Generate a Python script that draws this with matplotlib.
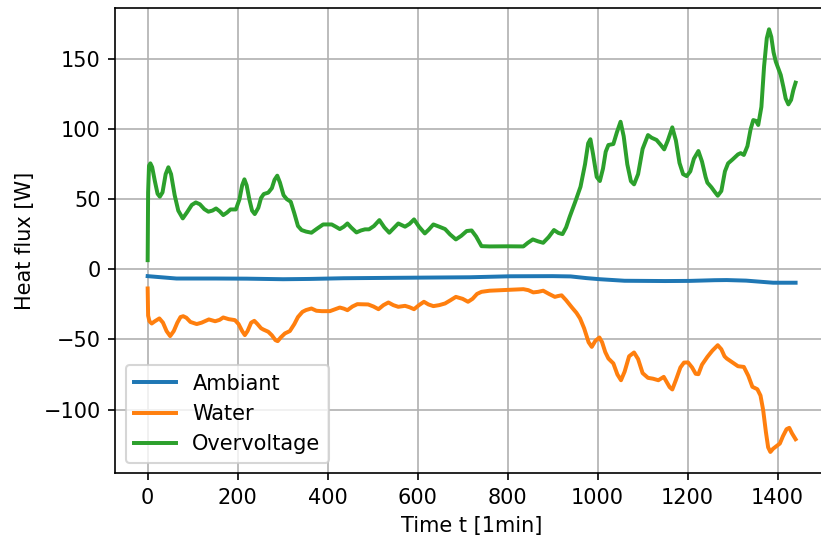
import numpy as np
import matplotlib
matplotlib.use("Agg")
import matplotlib.pyplot as plt

# --- heat flux series [W] vs time [min] ---
t_ambiant = [0, 30, 64, 150, 220, 301, 360, 435, 550, 716, 805, 900, 940,
             975, 1005, 1060, 1150, 1204, 1260, 1287, 1330, 1370, 1390, 1440]
q_ambiant = [-4.8, -5.6, -6.5, -6.5, -6.6, -7.0, -6.8, -6.3, -6.0, -5.6,
             -4.9, -4.8, -5.0, -6.2, -7.0, -8.1, -8.3, -8.2, -7.7, -7.6,
             -8.0, -9.0, -9.5, -9.5]

t_water = [0, 1, 4, 9, 16, 26, 34, 42, 50, 58, 66, 73, 79, 86, 95, 109, 120,
           136, 150, 160, 168, 180, 194, 202, 210, 216, 222, 230, 237, 244,
           252, 257, 268, 276, 284, 289, 296, 305, 316, 326, 334, 344, 352,
           364, 375, 387, 405, 416, 427, 436, 444, 455, 466, 490, 502, 513,
           524, 535, 546, 557, 572, 582, 592, 603, 614, 624, 635, 648, 661,
           673, 685, 700, 712, 722, 732, 742, 760, 800, 835, 846, 857, 868,
           879, 892, 905, 912, 920, 930, 943, 953, 961, 970, 980, 987, 995,
           1004, 1010, 1017, 1024, 1035, 1044, 1052, 1060, 1070, 1081, 1090,
           1100, 1112, 1123, 1135, 1147, 1153, 1160, 1166, 1174, 1184, 1192,
           1201, 1210, 1218, 1224, 1232, 1244, 1255, 1267, 1275, 1282, 1287,
           1300, 1312, 1325, 1335, 1344, 1355, 1362, 1368, 1374, 1379, 1384,
           1390, 1398, 1405, 1412, 1420, 1426, 1432, 1440]
q_water = [-13.6, -33, -37, -38.6, -37, -35, -38, -44, -47.6, -44, -38, -34,
           -33.4, -34.5, -37.5, -39, -38, -35.7, -37, -36, -34.3, -35.5,
           -36.2, -39, -44, -46.9, -44, -38, -36.7, -39, -42, -42.9, -44.5,
           -47, -50.5, -51.2, -48.5, -45.7, -44, -39, -34, -30.3, -29, -27.9,
           -29.5, -29.8, -29.8, -28.5, -27.2, -28, -29.1, -26.5, -24.8, -25,
           -26.5, -28.4, -25.5, -23.6, -25.5, -26.7, -26, -27, -28.4, -25.5,
           -23.1, -25, -26.2, -25.5, -24.3, -22, -19.6, -21, -23.1, -21,
           -17.5, -16, -15.2, -14.6, -14.1, -14.8, -16.4, -16, -15.2, -17.5,
           -19.6, -19, -18.5, -22, -27.2, -31, -35, -42, -52, -55.3, -51,
           -48.6, -52, -59, -63.6, -67.1, -75, -79.1, -73, -62, -59.3, -64,
           -74, -77.4, -78, -79.1, -76.7, -80, -84, -85.7, -79, -70, -66.5,
           -66.4, -70, -74.5, -74.8, -68, -62.4, -58, -54.1, -57, -62, -63.6,
           -66.5, -69.1, -69.6, -76, -83.8, -85.5, -90, -100.5, -116, -127,
           -130.3, -128, -126, -124.3, -119, -114, -113.1, -117, -121.2]

t_over = [0, 1, 3, 6, 10, 16, 22, 27, 33, 40, 46, 52, 60, 68, 78, 88, 98,
          107, 116, 126, 135, 144, 152, 160, 168, 176, 184, 196, 204, 210,
          215, 220, 226, 232, 238, 246, 252, 258, 268, 276, 282, 288, 294,
          302, 309, 318, 326, 334, 342, 352, 364, 376, 390, 409, 418, 427,
          436, 444, 452, 464, 474, 483, 492, 503, 515, 526, 537, 547, 557,
          572, 582, 592, 603, 616, 625, 635, 648, 661, 672, 685, 697, 709,
          720, 730, 742, 760, 800, 835, 845, 856, 868, 879, 891, 903, 913,
          922, 930, 938, 950, 962, 972, 979, 984, 990, 998, 1005, 1012, 1018,
          1024, 1035, 1043, 1051, 1058, 1066, 1074, 1081, 1090, 1100, 1112,
          1120, 1131, 1140, 1148, 1156, 1166, 1174, 1182, 1190, 1198, 1206,
          1214, 1224, 1232, 1240, 1244, 1253, 1260, 1267, 1275, 1283, 1290,
          1300, 1312, 1318, 1325, 1333, 1340, 1346, 1352, 1357, 1364, 1370,
          1376, 1381, 1386, 1391, 1396, 1407, 1413, 1418, 1424, 1430, 1435,
          1440]
q_over = [6.6, 55, 74, 75.7, 73, 63, 54, 51.9, 55, 68, 72.9, 68, 53, 42,
          36.4, 41, 46, 47.8, 46.5, 43, 41.2, 42, 43.5, 41.5, 38.8, 40.5,
          42.8, 42.8, 50, 60, 64.3, 60, 50, 42, 39.5, 44, 51, 53.8, 54.8, 58,
          64, 66.9, 62, 53, 50.2, 48.3, 40, 31, 28.1, 27, 26.2, 29, 32.1,
          32.1, 30.5, 28.8, 30.5, 32.8, 30, 26.4, 27.8, 28.6, 28.6, 31, 35.2,
          30, 26.2, 29.5, 32.8, 30.5, 32.5, 35.7, 30.5, 25.7, 28.5, 32.1,
          30.5, 28.8, 25, 21.4, 24, 27.4, 27.8, 23.5, 16.6, 16.4, 16.5, 16.4,
          19, 21.4, 20, 19.0, 23, 28.1, 26, 25.2, 30, 37.6, 48, 59, 75, 90,
          92.9, 82, 66, 63.1, 72, 84, 88.8, 89.5, 98, 105.4, 95, 75, 63,
          60.7, 68, 86, 95.9, 94, 92.4, 89, 85.7, 92, 101.4, 92, 76, 68,
          66.6, 70, 79, 84.5, 77, 66, 61.9, 58.6, 55.5, 52.6, 56, 70, 75.7,
          78.5, 82.1, 83, 81.7, 88, 100, 106.6, 106, 103.1, 116, 145, 165,
          171.4, 166, 155, 148.3, 138.8, 130, 122, 117.8, 121, 128, 133.3]

fig = plt.figure(figsize=(8.21 / 1.5, 5.40 / 1.5), dpi=150)
ax = fig.add_axes([0.1404, 0.1239, 0.8681, 0.861])

lw = 1.9
ax.plot(t_ambiant, q_ambiant, lw=lw, label="Ambiant")
ax.plot(t_water, q_water, lw=lw, label="Water")
ax.plot(t_over, q_over, lw=lw, label="Overvoltage")

ax.set_xlabel("Time t [1min]")
ax.set_ylabel("Heat flux [W]")
ax.legend(loc="lower left")
ax.grid(True)

plt.savefig("out.png", dpi=150)
